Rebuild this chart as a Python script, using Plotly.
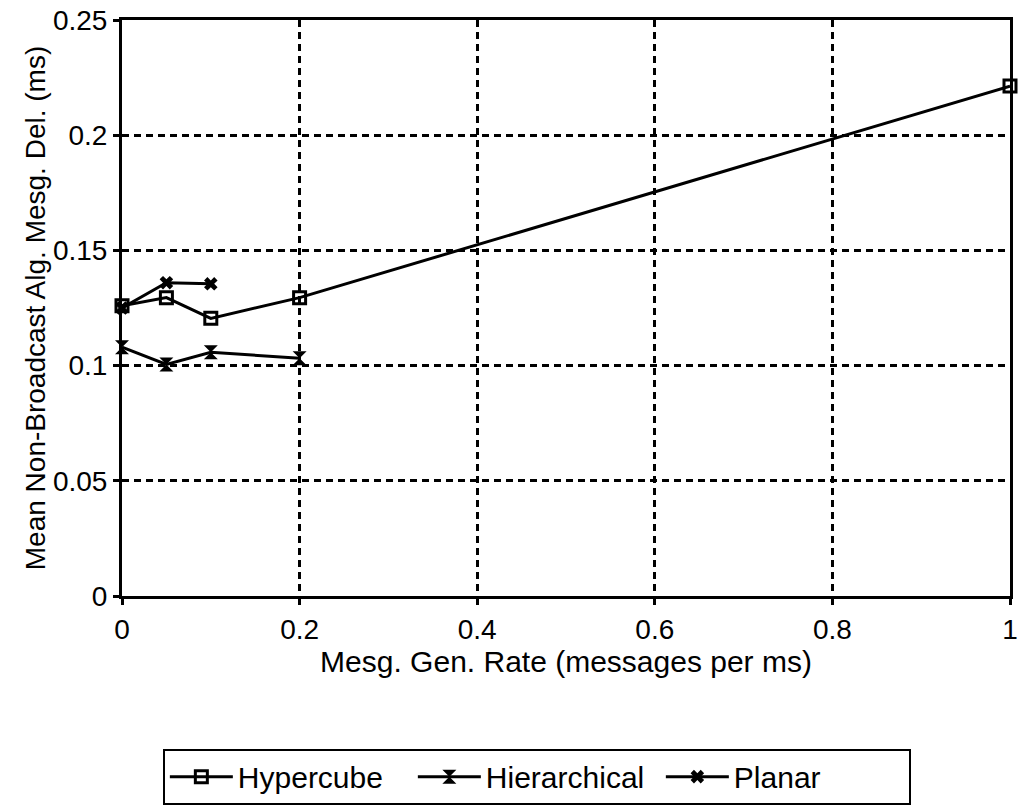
import plotly.graph_objects as go

# Message generation rate (messages per ms) and mean delays (ms)
hyper_x = [0, 0.05, 0.1, 0.2, 1.0]
hyper_y = [0.126, 0.1295, 0.1205, 0.1295, 0.2213]

hier_x = [0, 0.05, 0.1, 0.2]
hier_y = [0.108, 0.1005, 0.1058, 0.1032]

planar_x = [0, 0.05, 0.1]
planar_y = [0.125, 0.136, 0.1355]

x_ticks = [0, 0.2, 0.4, 0.6, 0.8, 1]
x_tick_text = ["0", "0.2", "0.4", "0.6", "0.8", "1"]
y_ticks = [0, 0.05, 0.1, 0.15, 0.2, 0.25]
y_tick_text = ["0", "0.05", "0.1", "0.15", "0.2", "0.25"]

FONT = "Liberation Sans, Arial, sans-serif"

fig = go.Figure()
fig.add_trace(go.Scatter(
    x=hyper_x, y=hyper_y, name="Hypercube", mode="lines+markers",
    line=dict(color="black", width=3),
    marker=dict(symbol="square-open", size=12, color="black", line=dict(width=3)),
    cliponaxis=False,
))
fig.add_trace(go.Scatter(
    x=hier_x, y=hier_y, name="Hierarchical", mode="lines+markers",
    line=dict(color="black", width=3),
    marker=dict(symbol="hourglass", size=14, color="black"),
    cliponaxis=False,
))
fig.add_trace(go.Scatter(
    x=planar_x, y=planar_y, name="Planar", mode="lines+markers",
    line=dict(color="black", width=3),
    marker=dict(symbol="x", size=12, color="black"),
    cliponaxis=False,
))

axis_common = dict(
    showline=True, linecolor="black", linewidth=3, mirror=True,
    ticks="outside", ticklen=6, tickwidth=2.5, tickcolor="black",
    showgrid=True, gridcolor="black", gridwidth=2.5, griddash="7px,5px",
    zeroline=False,
    tickfont=dict(family=FONT, size=28, color="black"),
)

fig.update_xaxes(
    range=[0, 1], tickvals=x_ticks, ticktext=x_tick_text,
    title=dict(text="Mesg. Gen. Rate (messages per ms)", font=dict(family=FONT, size=30, color="black"), standoff=4),
    **axis_common,
)
fig.update_yaxes(
    range=[0, 0.25], tickvals=y_ticks, ticktext=y_tick_text,
    title=dict(text="Mean Non-Broadcast Alg. Mesg. Del. (ms)", font=dict(family=FONT, size=28, color="black"), standoff=0),
    **axis_common,
)

fig.update_layout(
    width=1023, height=811,
    margin=dict(l=122, r=5, t=19, b=215),
    plot_bgcolor="white", paper_bgcolor="white",
    font=dict(family=FONT, color="black"),
    legend=dict(
        orientation="h", x=0.046, y=-0.265, xanchor="left", yanchor="top",
        bordercolor="black", borderwidth=2,
        font=dict(family=FONT, size=30, color="black"),
        itemwidth=63, entrywidth=170, entrywidthmode="pixels",
    ),
)

fig.write_html("out.html")
